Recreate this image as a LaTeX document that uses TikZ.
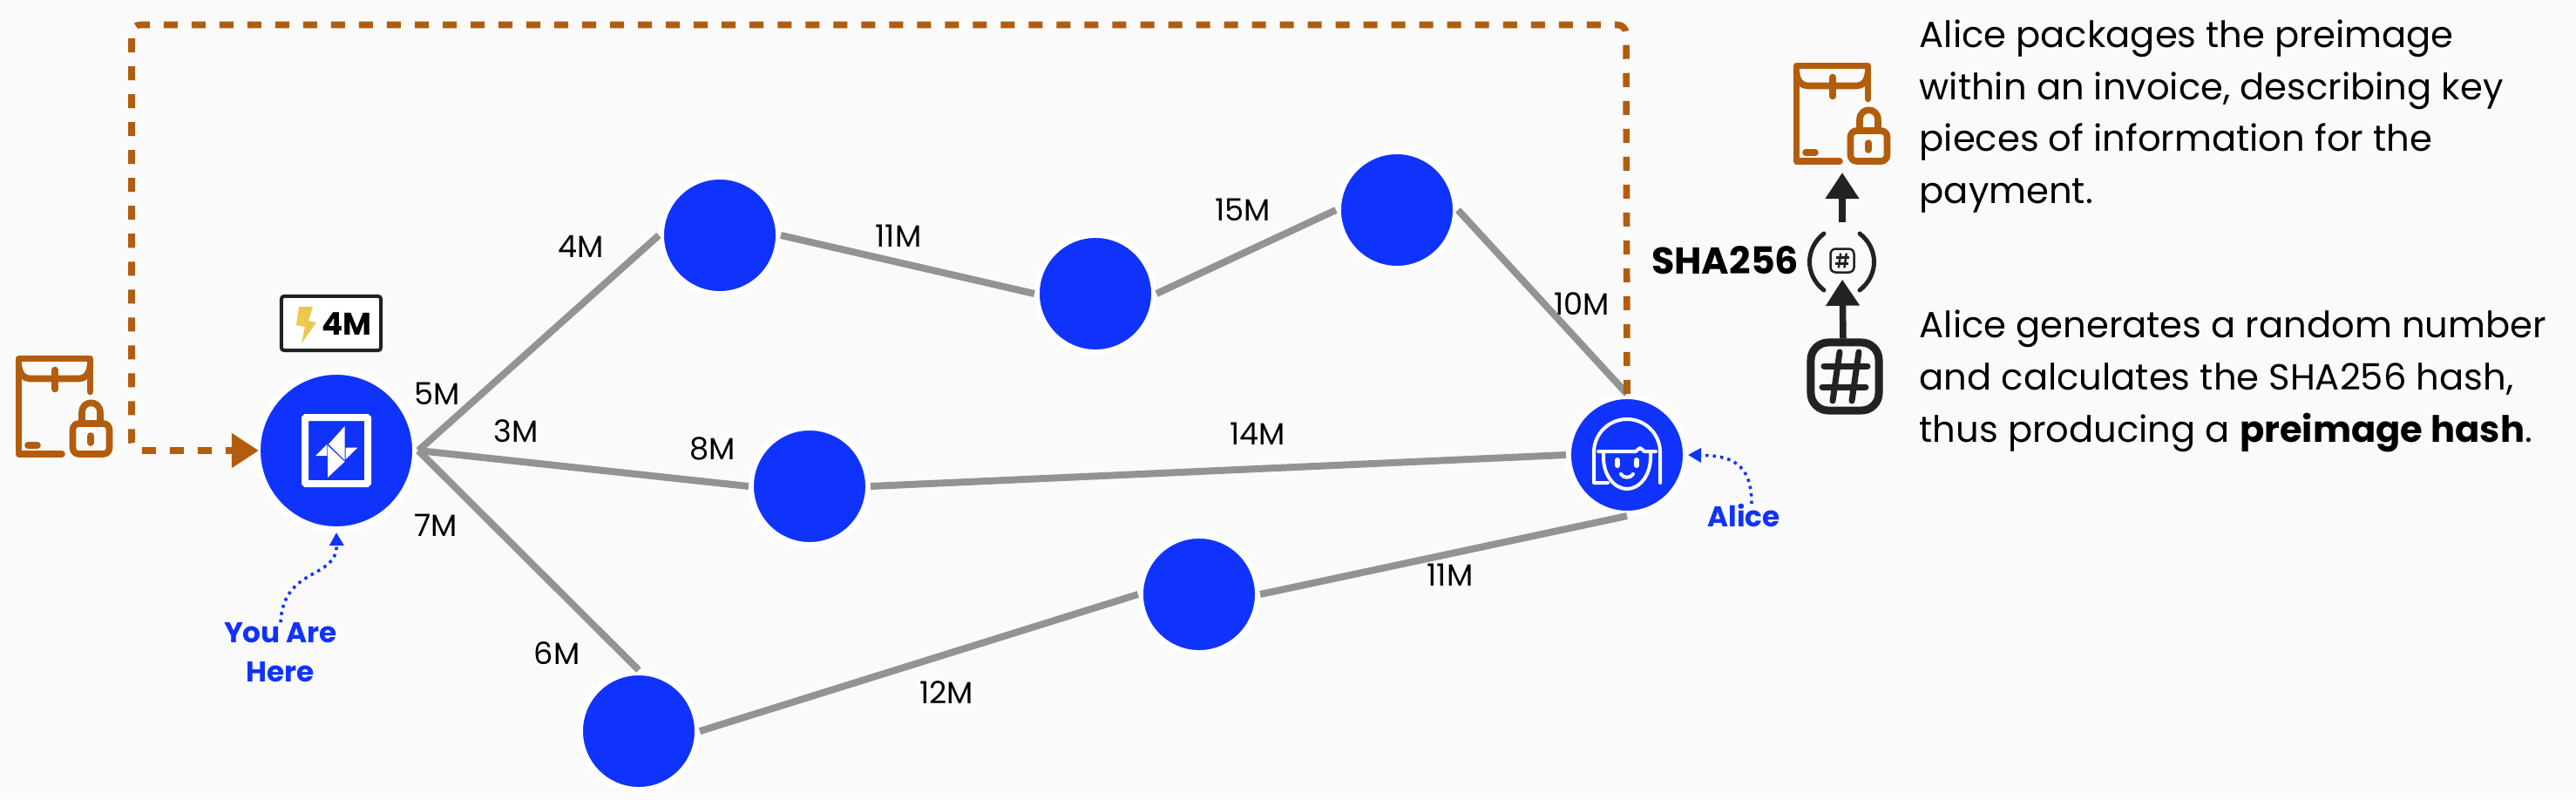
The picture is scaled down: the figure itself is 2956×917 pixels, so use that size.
\documentclass[tikz,border=0pt]{standalone}
\usepackage{fontspec}
\setmainfont{Poppins}
\usetikzlibrary{arrows.meta}
\definecolor{pagegray}{HTML}{FAFAFA}
\definecolor{nodeblue}{HTML}{1033FB}
\definecolor{invoicebrown}{HTML}{B25D0E}
\definecolor{edgegray}{HTML}{939393}
\definecolor{inkdark}{HTML}{222222}
\definecolor{boltyellow}{HTML}{EDC74F}
\tikzset{
    lnnode/.style={circle, fill=nodeblue, draw=white, line width=0.06cm, minimum size=1.34cm, inner sep=0pt},
    channel/.style={draw=edgegray, line width=0.08cm},
    amount/.style={font=\fontsize{10}{12}\selectfont, text=black, inner sep=0pt},
    bluetag/.style={font=\fontsize{9.3}{12.8}\selectfont\bfseries, text=nodeblue, align=center, inner sep=0pt},
    pointer/.style={draw=nodeblue, line width=0.035cm, dash pattern=on 0.035cm off 0.05cm, -{Triangle[length=0.15cm, width=0.16cm]}},
    payment/.style={draw=invoicebrown, line width=0.076cm, dash pattern=on 0.16cm off 0.16cm},
    hashstep/.style={draw=inkdark, line width=0.075cm, -{Triangle[length=0.3cm, width=0.37cm]}},
    hashbox/.style={draw=inkdark, fill=pagegray, rounded corners=0.2cm, inner sep=0pt},
    explain/.style={font=\fontsize{11.85}{17}\selectfont, align=left, anchor=north west, inner sep=0pt},
    invoiceicon/.pic={
        \begin{scope}[draw=invoicebrown, line width=0.076cm, line cap=round, line join=round]
            \draw (82,38) -- (82,0) -- (0,0) -- (0,109.5) -- (49.5,109.5);
            \draw (10.5,99.5) -- (21.5,99.5);
            \draw (0,8) .. controls (1,18) and (6,23) .. (13,23) -- (69,23) .. controls (76,23) and (81,18) .. (82,8);
            \draw (41.5,13) -- (41.5,35);
            \draw[rounded corners=0.07cm] (62,74.5) rectangle (104,109.5);
            \draw (72.5,74.5) -- (72.5,62) .. controls (72.5,47) and (93.5,47) .. (93.5,62) -- (93.5,74.5);
            \draw (82.5,88.5) -- (82.5,96.5);
        \end{scope}
    },
    hashmark/.pic={
        \draw (-24,-12) -- (26,-12);
        \draw (-26,12) -- (24,12);
        \draw (-6,-28) -- (-14,28);
        \draw (16,-28) -- (8,28);
    }
}
\begin{document}
\begin{tikzpicture}[x=0.01cm, y=-0.01cm]

    \fill[pagegray] (0,0) rectangle (2956,917);
    \useasboundingbox (0,0) rectangle (2956,917);

    \node[lnnode, line width=0.07cm, minimum size=1.81cm] (you) at (386,517) {};
    \node[lnnode] (hopA) at (826,270) {};
    \node[lnnode] (hopB) at (1257,337) {};
    \node[lnnode] (hopC) at (1603,241) {};
    \node[lnnode] (hopD) at (929,558) {};
    \node[lnnode] (hopE) at (733,839) {};
    \node[lnnode] (hopF) at (1376,682) {};
    \node[lnnode] (alice) at (1867,522) {};

    \draw[channel] (you.east) -- (hopA.west);
    \draw[channel] (you.east) -- (hopD.west);
    \draw[channel] (you.east) -- (hopE.north);
    \draw[channel] (hopA.east) -- (hopB.west);
    \draw[channel] (hopB.east) -- (hopC.west);
    \draw[channel] (hopC.east) -- (alice.north);
    \draw[channel] (hopD.east) -- (alice.west);
    \draw[channel] (hopE.east) -- (hopF.west);
    \draw[channel] (hopF.east) -- (alice.south);

    \foreach \tagname/\x/\y/\amt in {
        amtA/667/283/4M, amtB/1031/271/11M, amtC/1426/241/15M, amtD/1815/349/10M,
        amtE/502/452/5M, amtF/592/495/3M, amtG/818/515/8M, amtH/1443/498/14M,
        amtI/500/603/7M, amtJ/639/750/6M, amtK/1086/795/12M, amtL/1664/660/11M}
        \node[amount] (\tagname) at (\x,\y) {\amt};

    \coordinate (payleft) at (151,517);
    \coordinate (paytop) at (151,28.5);
    \coordinate (payright) at (1866,28.5);
    \draw[payment, rounded corners=0.1cm, shorten >=-0.05cm, -{Triangle[length=0.31cm, width=0.38cm]}] (alice.north) -- (payright) -- (paytop) -- (payleft) -- (you.west);

    \pic at (21.5,411.5) {invoiceicon};
    \pic at (2061.5,75.5) {invoiceicon};
    \coordinate (lockedinvoice) at (2114,198);

    \node[draw=inkdark, fill=white, line width=0.04cm, rounded corners=0.03cm, minimum width=1.14cm, minimum height=0.62cm, inner sep=0pt] (badge) at (380,371) {};
    \node[font=\fontsize{10.2}{12}\selectfont\bfseries, inner sep=0pt] (badgetext) at (398,372) {4M};
    \fill[boltyellow] (343,352) -- (359,352) -- (354,368) -- (363,370) -- (346,394) -- (350,375) -- (340,373) -- cycle;

    \begin{scope}[shift={(you.center)}]
        \draw[white, line width=0.08cm, rounded corners=0.01cm] (-36,-38) rectangle (36,38);
        \fill[white] (9.6,-28) -- (9.6,11) -- (-9,-7.3) -- cycle;
        \fill[white] (-10.7,-7.3) -- (-10.7,6) -- (-24,6) -- cycle;
        \fill[white] (-10,-5.7) -- (9.6,12.7) -- (-10,31) -- cycle;
        \fill[white] (10.7,-3.3) -- (24.3,-3.3) -- (10.7,10) -- cycle;
    \end{scope}

    \begin{scope}[shift={(alice.center)}, draw=white, line width=0.04cm, line cap=round, line join=round]
        \draw (38,32) -- (38,-3) arc[start angle=0, end angle=-180, radius=38] -- (-38,32) -- (-22,32);
        \draw (-27,-4) -- (-27,3) .. controls (-27,24) and (-14,39) .. (0,39) .. controls (14,39) and (27,24) .. (27,3) -- (27,-4);
        \draw (-33,-4) -- (10,-4) -- (15,-8) -- (20,-4) -- (33,-4);
        \draw[line width=0.06cm] (-11,6) -- (-11,12);
        \draw[line width=0.06cm] (11,6) -- (11,12);
        \draw (-7,22) .. controls (-4,27) and (4,27) .. (7,22);
    \end{scope}

    \node[bluetag] (youtag) at (322,749) {You Are\\Here};
    \node[bluetag] (alicetag) at (2001,592) {Alice};
    \draw[pointer] (youtag.north) .. controls (325,650) and (387,665) .. (you.south);
    \draw[pointer] ([xshift=0.09cm]alicetag.north) .. controls (2010,530) and (1985,523) .. (alice.east);

    \node[hashbox, line width=0.09cm, minimum size=0.78cm] (hashbig) at (2117,432) {};
    \pic[draw=inkdark, line width=0.07cm, line cap=round] at (hashbig) {hashmark};
    \node[hashbox, line width=0.025cm, rounded corners=0.06cm, minimum size=0.27cm] (hashsmall) at (2114,299) {};
    \pic[draw=inkdark, line width=0.025cm, scale=0.3] at (hashsmall) {hashmark};

    \draw[draw=inkdark, line width=0.05cm, line cap=round] (2093,268) .. controls (2071,285) and (2071,316) .. (2093,333);
    \draw[draw=inkdark, line width=0.05cm, line cap=round] (2134,268) .. controls (2156,285) and (2156,316) .. (2134,333);

    \draw[hashstep, shorten >=0.07cm] ([xshift=-0.02cm]hashbig.north) -- (hashsmall.south);
    \draw[hashstep, shorten <=0.29cm] (hashsmall.north) -- (lockedinvoice);

    \node[font=\fontsize{12.2}{14}\selectfont\bfseries, anchor=east, inner sep=0pt] (shatag) at (2065,299) {SHA256};

    \node[explain] (topnote) at (2202,22) {Alice packages the preimage\\within an invoice, describing key\\pieces of information for the\\payment.};
    \node[explain] (lownote) at (2202,355) {Alice generates a random number\\and calculates the SHA256 hash,\\thus producing a \textbf{preimage hash}.};

\end{tikzpicture}
\end{document}
